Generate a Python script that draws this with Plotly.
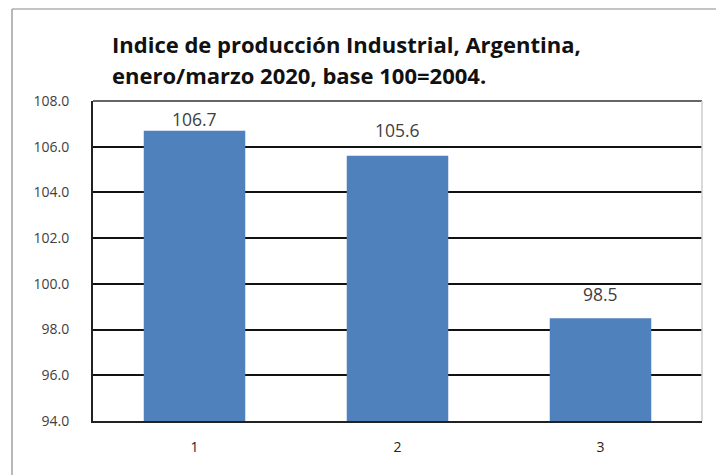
import plotly.graph_objects as go

categories = ["1", "2", "3"]
values = [106.7, 105.6, 98.5]
value_labels = ["106.7", "105.6", "98.5"]
y_ticks = [94, 96, 98, 100, 102, 104, 106, 108]
y_tick_labels = ["94.0", "96.0", "98.0", "100.0", "102.0", "104.0", "106.0", "108.0"]
title_lines = ["Indice de producción Industrial, Argentina,", "enero/marzo 2020, base 100=2004."]

W, H = 716, 475
L, R, T, B = 93, 14, 101, 54
pw, ph = W - L - R, H - T - B

FONT = "Open Sans"
label_shift = [12, 26, 24]  # pixel offset of value labels above bar tops

fig = go.Figure()
fig.add_trace(go.Bar(
    x=categories, y=values,
    marker=dict(color="#4F81BD", line=dict(width=0)),
    width=0.5, showlegend=False, hoverinfo="x+y",
))

for i, (v, t, s) in enumerate(zip(values, value_labels, label_shift)):
    fig.add_annotation(x=i, y=v, text=t, showarrow=False, yanchor="middle",
                       yshift=s, font=dict(family=FONT, size=17.5, color="#404040"))

fig.update_layout(
    width=W, height=H,
    margin=dict(l=L, r=R, t=T, b=B),
    paper_bgcolor="white", plot_bgcolor="white",
    font=dict(family=FONT, color="#404040"),
    xaxis=dict(type="category", range=[-0.5, len(categories) - 0.5],
               showgrid=False, showline=True, linecolor="#222", linewidth=2,
               ticks="", tickfont=dict(size=14, color="#222"), ticklabelstandoff=12),
    yaxis=dict(range=[94, 108], tickvals=y_ticks, ticktext=y_tick_labels,
               showgrid=True, gridcolor="#111", gridwidth=1.5,
               showline=True, linecolor="#222", linewidth=2, zeroline=False,
               ticks="", tickfont=dict(size=14, color="#404040"), ticklabelstandoff=19),
)

for line, ypix in zip(title_lines, [44, 75]):
    fig.add_annotation(text="<b>" + line + "</b>", xref="paper", yref="paper",
                       x=(110 - L) / pw, y=1 + (T - ypix) / ph,
                       xanchor="left", yanchor="middle", showarrow=False,
                       font=dict(family=FONT, size=22, color="#111"))

fig.add_shape(type="line", xref="paper", yref="paper", x0=0, x1=1, y0=1, y1=1,
              line=dict(color="#333", width=1.5))
fig.add_shape(type="line", xref="paper", yref="paper", x0=1, x1=1, y0=0, y1=1,
              line=dict(color="#ccc", width=1.5))
fx = (12 - L) / pw
fy = 1 + (T - 9) / ph
fig.add_shape(type="line", xref="paper", yref="paper", x0=fx, x1=1 + (R + 5) / pw, y0=fy, y1=fy,
              line=dict(color="#8a8a8a", width=1.2))
fig.add_shape(type="line", xref="paper", yref="paper", x0=fx, x1=fx, y0=fy, y1=-(B + 5) / ph,
              line=dict(color="#8a8a8a", width=1.2))

fig.write_html("out.html", config={"displayModeBar": False},
               post_script="document.body.style.margin='0';document.body.style.overflow='hidden';")
